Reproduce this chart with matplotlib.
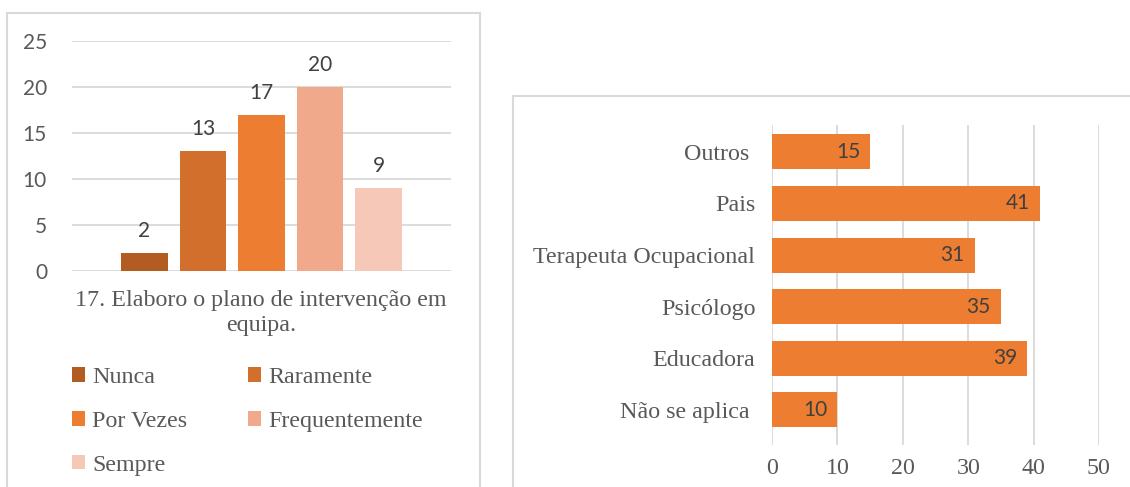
import matplotlib.pyplot as plt
from matplotlib.patches import Rectangle

# ── DATA ─────────────────────────────────────────────────────
freq_labels = ['Nunca', 'Raramente', 'Por Vezes', 'Frequentemente', 'Sempre']
freq_values = [2, 13, 17, 20, 9]
freq_title = '17. Elaboro o plano de intervenção em\nequipa.'

who_labels = ['Não se aplica ', 'Educadora', 'Psicólogo', 'Terapeuta Ocupacional', 'Pais', 'Outros ']
who_values = [10, 39, 35, 31, 41, 15]

# ── STYLE ────────────────────────────────────────────────────
plt.rcParams['font.family'] = 'serif'
plt.rcParams['font.serif'] = ['Liberation Serif', 'DejaVu Serif']
plt.rcParams['font.sans-serif'] = ['Lato', 'DejaVu Sans']

W, H = 1130, 487
grey_txt = '#595959'
grid_col = '#D9D9D9'
freq_colors = ['#B35C22', '#D26F2C', '#ED7D31', '#F1A98B', '#F5C8B8']
orange = '#ED7D31'


def fig_box(x0, y0, x1, y1):
    # pixel box (top-left origin) -> figure fraction [l, b, w, h]
    return [x0 / W, (H - y1) / H, (x1 - x0) / W, (y1 - y0) / H]


fig = plt.figure(figsize=(W / 100, H / 100), dpi=100)

# panel borders
for x0, y0, x1, y1 in [(7, 13, 480, 495), (513, 96, 1140, 495)]:
    l, b, w, h = fig_box(x0, y0, x1, y1)
    fig.patches.append(Rectangle((l, b), w, h, transform=fig.transFigure,
                                 fill=False, edgecolor=grid_col, linewidth=1.5))

# ── LEFT: vertical bars ──────────────────────────────────────
ax1 = fig.add_axes(fig_box(72, 41, 451, 271))
pos = list(range(len(freq_values)))
bars = ax1.bar(pos, freq_values, width=0.79, color=freq_colors, zorder=3)
ax1.set_xlim(-1.24, 5.24)
ax1.set_ylim(0, 25)
ax1.set_yticks([0, 5, 10, 15, 20, 25])
ax1.set_xticks([])
ax1.grid(axis='y', color=grid_col, linewidth=1.3, zorder=0)
for s in ax1.spines.values():
    s.set_visible(False)
ax1.tick_params(axis='y', length=0, pad=18, labelsize=15, labelcolor=grey_txt)
for t in ax1.get_yticklabels():
    t.set_fontfamily('sans-serif')
for b, v in zip(bars, freq_values):
    ax1.annotate(str(v), (b.get_x() + b.get_width() / 2, v), xytext=(0, 12),
                 textcoords='offset pixels', ha='center', va='bottom',
                 fontsize=15, color='#404040', family='sans-serif')

fig.text(261 / W, 1 - 290 / H, freq_title, ha='center', va='top',
         fontsize=17.3, color=grey_txt, linespacing=1.25)

order = [0, 2, 4, 1, 3]
fig.legend([bars[i] for i in order], [freq_labels[i] for i in order],
           ncol=2, loc='upper left', bbox_to_anchor=(72 / W, 1 - 367 / H),
           frameon=False, prop={'size': 17.3},
           labelcolor=grey_txt, handlelength=0.55, handleheight=0.55,
           handletextpad=0.3, columnspacing=2.5, labelspacing=0.95,
           borderpad=0, borderaxespad=0)

# ── RIGHT: horizontal bars ───────────────────────────────────
ax2 = fig.add_axes(fig_box(772, 125, 1099, 445))
ypos = list(range(len(who_values)))
hb = ax2.barh(ypos, who_values, height=0.68, color=orange, zorder=3)
ax2.set_xlim(0, 50)
ax2.set_ylim(-0.68, 5.52)
ax2.set_xticks([0, 10, 20, 30, 40, 50])
ax2.set_yticks(ypos)
ax2.set_yticklabels(who_labels)
ax2.grid(axis='x', color=grid_col, linewidth=1.3, zorder=0)
for s in ax2.spines.values():
    s.set_visible(False)
ax2.tick_params(length=0, labelsize=17.3, labelcolor=grey_txt)
ax2.tick_params(axis='y', pad=12)
ax2.tick_params(axis='x', pad=9)
for b, v in zip(hb, who_values):
    ax2.annotate(str(v), (v, b.get_y() + b.get_height() / 2), xytext=(-10, 0),
                 textcoords='offset pixels', ha='right', va='center',
                 fontsize=15, color='#404040', family='sans-serif')

fig.savefig('out.png', dpi=100, facecolor='white')
